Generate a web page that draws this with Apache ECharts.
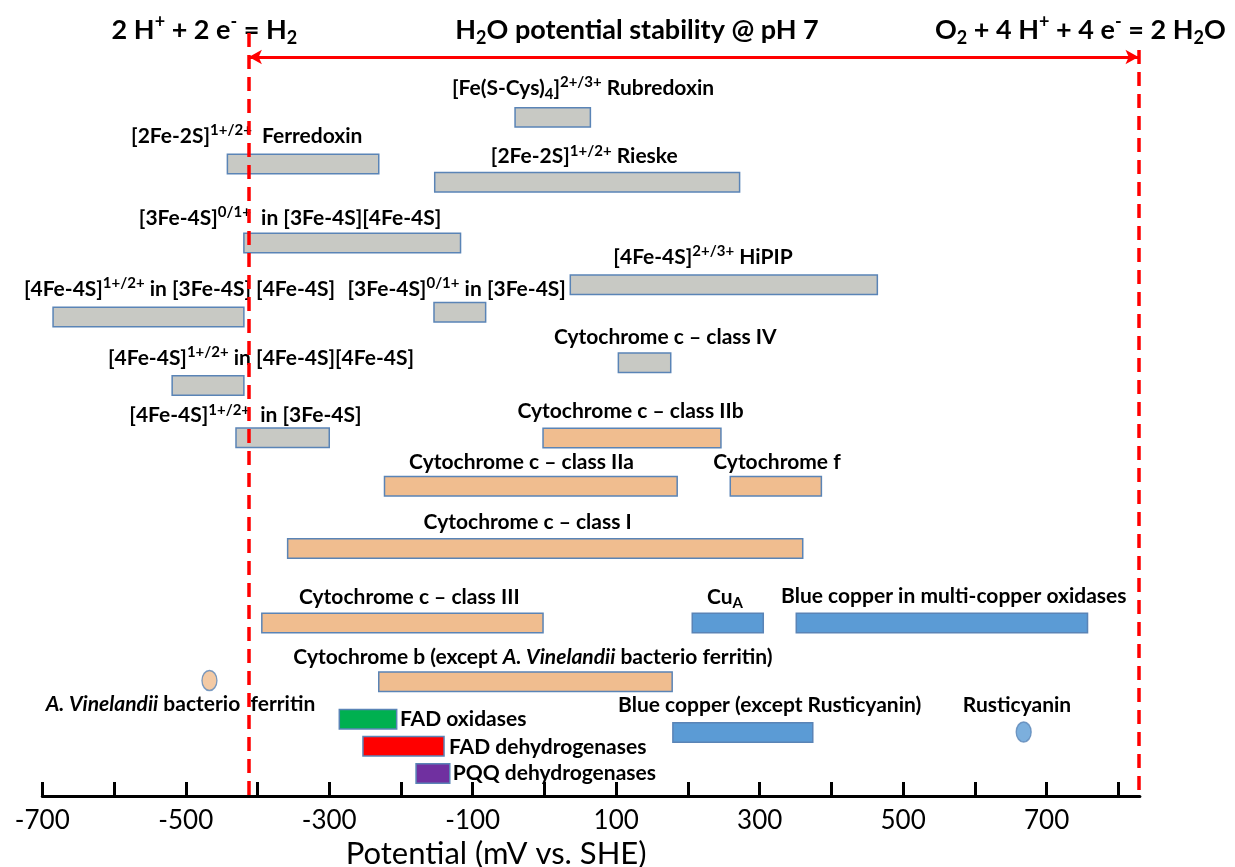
<!DOCTYPE html>
<html>
<head>
<meta charset="utf-8">
<script src="https://cdn.jsdelivr.net/npm/echarts@6/dist/echarts.min.js"></script>
<style>
html,body{margin:0;padding:0;background:#fff;}
#chart{width:1235px;height:867px;}
</style>
</head>
<body>
<div id="chart"></div>
<script>
// ================= DATA =================
// Redox-potential ranges (mV vs. SHE) of biological redox centres
const sites = [
  '[Fe(S-Cys)4]2+/3+ Rubredoxin',
  '[2Fe-2S]1+/2+ Ferredoxin',
  '[2Fe-2S]1+/2+ Rieske',
  '[3Fe-4S]0/1+ in [3Fe-4S][4Fe-4S]',
  '[4Fe-4S]2+/3+ HiPIP',
  '[4Fe-4S]1+/2+ in [3Fe-4S][4Fe-4S]',
  '[3Fe-4S]0/1+ in [3Fe-4S]',
  'Cytochrome c – class IV',
  '[4Fe-4S]1+/2+ in [4Fe-4S][4Fe-4S]',
  '[4Fe-4S]1+/2+ in [3Fe-4S]',
  'Cytochrome c – class IIb',
  'Cytochrome c – class IIa',
  'Cytochrome f',
  'Cytochrome c – class I',
  'Cytochrome c – class III',
  'CuA',
  'Blue copper in multi-copper oxidases',
  'Cytochrome b (except A. Vinelandii bacterio ferritin)',
  'Blue copper (except Rusticyanin)',
  'FAD oxidases',
  'FAD dehydrogenases',
  'PQQ dehydrogenases'
];
const lowMV  = [-41, -442, -153, -419,  36, -685, -154, 103, -519, -430,  -2, -223, 259, -358, -394, 206, 351, -231, 179, -286, -253, -179];
const highMV = [ 64, -231,  272, -117, 464, -419,  -82, 176, -419, -300, 246,  185, 386,  360,   -2, 305, 757,  178, 374, -206, -140, -132];
const siteGroup = ['FeS','FeS','FeS','FeS','FeS','FeS','FeS','FeS','FeS','FeS',
                   'heme','heme','heme','heme','heme','Cu','Cu','heme','Cu','FADox','FADdh','PQQ'];

// Single-value sites
const pointSites = ['A. Vinelandii bacterio ferritin', 'Rusticyanin'];
const pointMV    = [-467, 668];
const pointGroup = ['heme', 'Cu'];

// Water stability limits at pH 7 (mV)
const waterLimitsMV = [-412, 828];

// Axis ticks / labels
const tickValues  = [-700,-600,-500,-400,-300,-200,-100,0,100,200,300,400,500,600,700,800];
const labelValues = [-700,-500,-300,-100,100,300,500,700];

// Displayed label texts (rich markup for super/subscripts)
const siteLabels = [
  '[Fe(S-Cys){sub|4}]{sup|2+/3+} Rubredoxin',
  '[2Fe-2S]{sup|1+/2+}  Ferredoxin',
  '[2Fe-2S]{sup|1+/2+} Rieske',
  '[3Fe-4S]{sup|0/1+}  in [3Fe-4S][4Fe-4S]',
  '[4Fe-4S]{sup|2+/3+} HiPIP',
  '[4Fe-4S]{sup|1+/2+} in [3Fe-4S] [4Fe-4S]',
  '[3Fe-4S]{sup|0/1+} in [3Fe-4S]',
  'Cytochrome c – class IV',
  '[4Fe-4S]{sup|1+/2+} in [4Fe-4S][4Fe-4S]',
  '[4Fe-4S]{sup|1+/2+}  in [3Fe-4S]',
  'Cytochrome c – class IIb',
  'Cytochrome c – class IIa',
  'Cytochrome f',
  'Cytochrome c – class I',
  'Cytochrome c – class III',
  'Cu{sub|A}',
  'Blue copper in multi-copper oxidases',
  'Cytochrome b (except {it|A. Vinelandii} bacterio ferritin)',
  'Blue copper (except Rusticyanin)',
  'FAD oxidases',
  'FAD dehydrogenases',
  'PQQ dehydrogenases'
];
const pointLabels = ['{it|A. Vinelandii} bacterio  ferritin', 'Rusticyanin'];
const headerLabels = [
  '2 H{sup|+} + 2 e{sup|-} = H{sub|2}',
  'H{sub|2}O potential stability @ pH 7',
  'O{sub|2} + 4 H{sup|+} + 4 e{sup|-} = 2 H{sub|2}O'
];
const axisTitle = 'Potential (mV vs. SHE)';

// ================= LAYOUT (positions, not data) =================
const barLane   = [117.4,164,182.3,243,284.7,317,312.2,362.7,385.5,437.8,438,486.3,486.3,548.5,623,623,623,681.7,732.5,719.2,746.3,773.5];
const labelX    = [53.7,-415,55.5,-354.7,221,-508.8,-122.4,168.4,-395.2,-416.9,119.9,-32,324.1,-23.4,-188.4,251.6,570.6,-16,313.9,-201.4,-133.1,-127.8];
const labelLane = [88,136.5,156.7,218.3,257.3,289,289,337.3,358.3,415.7,411,462.7,462.7,522,597.3,597,596,657.7,705,719.3,747.3,773];
const labelAlign= ['center','center','center','center','center','center','center','center','center','center','center','center','center','center','center','center','center','center','center','left','left','left'];
const pointLane = [680.5, 732];
const pointLabelX = [-507.4, 658.7];
const pointLabelLane = [704, 705];
const headerX = [-474, 129, 747];
const headerLane = 30;
const arrowLane = 57;
const limitTopLane = [33, 50];
const barThickness = 19.4;

// ================= STYLES =================
const FONT = 'Lato';
const groupFill = {FeS:'#C8C9C4', heme:'#F0BD8F', Cu:'#5B9BD5', FADox:'#00B050', FADdh:'#FF0000', PQQ:'#7030A0'};
const barStroke = '#5A84B6';
const LBL = 21, LBL_SUP = 15;
const labelRich = {
  sup:{fontSize:LBL_SUP, fontWeight:'bold', fontFamily:FONT, lineHeight:15, verticalAlign:'top', fill:'#000'},
  sub:{fontSize:LBL_SUP, fontWeight:'bold', fontFamily:FONT, lineHeight:15, verticalAlign:'bottom', fill:'#000'},
  it:{fontSize:LBL, fontWeight:'bold', fontStyle:'italic', fontFamily:FONT, lineHeight:27, fill:'#000'}
};
const headerRich = {
  sup:{fontSize:18, fontWeight:'bold', fontFamily:FONT, lineHeight:18, verticalAlign:'top', fill:'#000'},
  sub:{fontSize:18, fontWeight:'bold', fontFamily:FONT, lineHeight:18, verticalAlign:'bottom', fill:'#000'}
};

function textItem(pt, text, align, size, lh, rich) {
  return {
    type:'text', x:pt[0], y:pt[1],
    style:{text:text, fill:'#000', fontFamily:FONT, fontWeight:'bold', fontSize:size, lineHeight:lh,
           align:align, verticalAlign:'middle', rich:rich}
  };
}

const barData = sites.map((s,i)=>({name:s, value:[lowMV[i], highMV[i], barLane[i]]}));
const pointData = pointSites.map((s,i)=>({name:s, value:[pointMV[i], pointLane[i]],
  itemStyle:{color:groupFill[pointGroup[i]], borderColor:barStroke, borderWidth:1.5}}));
const labelData = siteLabels.map((t,i)=>[labelX[i], labelLane[i]])
  .concat(pointLabels.map((t,i)=>[pointLabelX[i], pointLabelLane[i]]));
const allLabelTexts = siteLabels.concat(pointLabels);
const allLabelAlign = labelAlign.concat(['center','center']);

const chart = echarts.init(document.getElementById('chart'), null, {renderer:'canvas'});
chart.setOption({
  animation:false,
  backgroundColor:'#fff',
  grid:{left:42.3, right:95.1, top:0, bottom:71, containLabel:false, outerBoundsMode:'none'},
  xAxis:{
    type:'value', min:-700, max:830, position:'bottom',
    axisLine:{onZero:false, lineStyle:{color:'#000', width:3}},
    axisTick:{inside:true, length:14, lineStyle:{color:'#000', width:3}, customValues:tickValues},
    axisLabel:{customValues:labelValues, fontSize:26, color:'#000', fontFamily:FONT, margin:12},
    splitLine:{show:false},
    name:axisTitle, nameLocation:'middle', nameGap:35,
    nameTextStyle:{fontSize:31, color:'#000', fontFamily:FONT, padding:[0,190,0,0]}
  },
  yAxis:{type:'value', inverse:true, min:0, max:796, show:false},
  series:[
    {
      type:'custom', name:'ranges', clip:false,
      data:barData,
      renderItem:function(params, api){
        const i = params.dataIndex;
        const s = api.coord([api.value(0), api.value(2)]);
        const e = api.coord([api.value(1), api.value(2)]);
        const h = api.size([0, barThickness])[1];
        return {type:'rect', shape:{x:s[0], y:s[1]-h/2, width:e[0]-s[0], height:h},
          style:{fill:groupFill[siteGroup[i]], stroke:barStroke, lineWidth:1.5}};
      }
    },
    {
      type:'scatter', name:'points', symbol:'circle', symbolSize:[15,20],
      data:pointData,
      markLine:{
        silent:true, animation:false, label:{show:false},
        data:[
          [{coord:[waterLimitsMV[0], limitTopLane[0]], symbol:'none', lineStyle:{color:'#FF0000', width:3.5, type:[14,8]}},
           {coord:[waterLimitsMV[0], 796], symbol:'none'}],
          [{coord:[waterLimitsMV[1], limitTopLane[1]], symbol:'none', lineStyle:{color:'#FF0000', width:3.5, type:[14,8]}},
           {coord:[waterLimitsMV[1], 796], symbol:'none'}],
          [{coord:[waterLimitsMV[0], arrowLane], symbol:'arrow', symbolSize:[11,13], lineStyle:{color:'#FF0000', width:3, type:'solid'}},
           {coord:[waterLimitsMV[1], arrowLane], symbol:'arrow', symbolSize:[11,13]}]
        ]
      }
    },
    {
      type:'custom', name:'labels', clip:false, silent:true,
      data:labelData,
      renderItem:function(params, api){
        const i = params.dataIndex;
        const pt = api.coord([api.value(0), api.value(1)]);
        return textItem(pt, allLabelTexts[i], allLabelAlign[i], LBL, 27, labelRich);
      }
    },
    {
      type:'custom', name:'headers', clip:false, silent:true,
      data:headerX.map(x=>[x, headerLane]),
      renderItem:function(params, api){
        const pt = api.coord([api.value(0), api.value(1)]);
        return textItem(pt, headerLabels[params.dataIndex], 'center', 27, 34, headerRich);
      }
    }
  ]
});
</script>
</body>
</html>
